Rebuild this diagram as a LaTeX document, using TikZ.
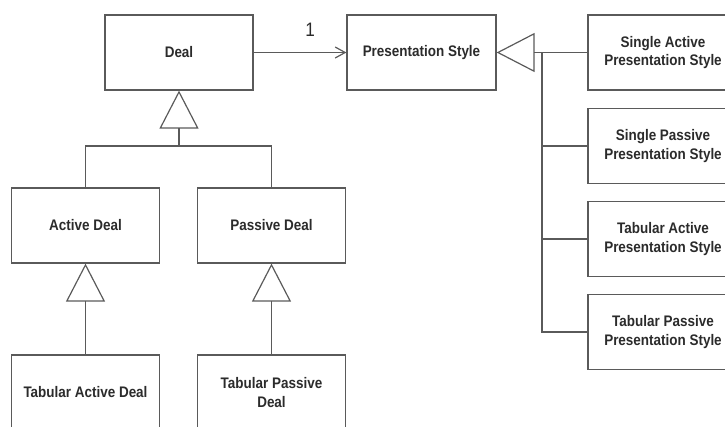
\documentclass[tikz,border=0pt]{standalone}
\usepackage{fontspec}
\setmainfont{Liberation Sans}[FakeStretch=0.88]
\usetikzlibrary{arrows.meta}
\definecolor{linegray}{HTML}{5A5A5A}
\definecolor{textgray}{HTML}{2B2B2B}
\tikzset{
  cls/.style={draw=linegray, line width=1.2pt, minimum width=148pt, minimum height=75pt,
    inner sep=0pt, align=center, text=textgray,
    font=\fontsize{15.3}{18.8}\selectfont\bfseries},
  conn/.style={draw=linegray, line width=1.2pt},
  inh/.style={conn, -{Triangle[open, length=38pt, width=39pt]}},
  assoc/.style={conn, -{Straight Barb[length=10pt, width=11pt]}},
  mult/.style={text=textgray, font=\fontsize{19.5}{19.5}\selectfont, inner sep=0pt},
}
\begin{document}
\begin{tikzpicture}[x=1pt, y=-1pt]
\useasboundingbox (0,0) rectangle (725,426);
\clip (0,0) rectangle (725,426);

% deal hierarchy
\node[cls] (deal) at (179,52.5) {Deal};
\node[cls] (ad)   at (85.5,225.5) {Active Deal};
\node[cls] (pd)   at (271.5,225.5) {Passive Deal};
\node[cls] (tad)  at (85.5,392.5) {Tabular Active Deal};
\node[cls] (tpd)  at (271.5,392.5) {Tabular Passive\\Deal};

% presentation styles
\node[cls, minimum width=149pt] (ps) at (421.5,52.5) {Presentation Style};
\node[cls, minimum width=150pt] (sap) at (663,52.5)  {Single Active\\Presentation Style};
\node[cls, minimum width=150pt] (spp) at (663,146)   {Single Passive\\Presentation Style};
\node[cls, minimum width=150pt] (tap) at (663,239)   {Tabular Active\\Presentation Style};
\node[cls, minimum width=150pt] (tpp) at (663,332)   {Tabular Passive\\Presentation Style};

% association
\draw[assoc] (deal.east) -- node[mult, pos=0.61, above=15.5pt] {1} (ps.west);

% generalisation of deals
\coordinate (dj) at (179,146);
\draw[conn] (ad.north) |- (dj) -| (pd.north);
\draw[inh] (dj) -- (deal.south);
\draw[inh] (tad.north) -- (ad.south);
\draw[inh] (tpd.north) -- (pd.south);

% generalisation of presentation styles
\coordinate (bus) at (542,52.5);
\draw[inh] (sap.west) -- (ps.east);
\draw[conn] (bus) |- (tpp.west);
\draw[conn] (bus |- spp.west) -- (spp.west);
\draw[conn] (bus |- tap.west) -- (tap.west);
\end{tikzpicture}
\end{document}
